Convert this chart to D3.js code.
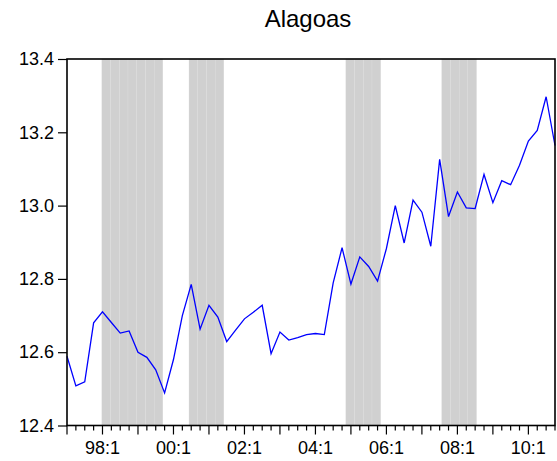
<!DOCTYPE html>
<html>
<head>
<meta charset="utf-8">
<script src="https://cdn.jsdelivr.net/npm/d3@7"></script>
<style>
  body { margin: 0; background: #fff; }
  text { font-family: "Liberation Sans", Arial, sans-serif; }
</style>
</head>
<body>
<div id="chart"></div>
<script>
// Quarterly series, 1997Q1 - 2010Q4
var startYear = 1997;
var values = [12.589, 12.508, 12.519, 12.680, 12.710, 12.681, 12.652, 12.658, 12.600, 12.586,
              12.552, 12.489, 12.580, 12.700, 12.785, 12.663, 12.728, 12.696, 12.629, 12.660,
              12.691, 12.709, 12.728, 12.596, 12.655, 12.633, 12.640, 12.648, 12.651, 12.648,
              12.789, 12.885, 12.786, 12.860, 12.834, 12.794, 12.883, 13.000, 12.898, 13.015,
              12.982, 12.889, 13.126, 12.970, 13.037, 12.994, 12.992, 13.085, 13.008, 13.068,
              13.057, 13.110, 13.176, 13.205, 13.297, 13.164];
// shaded periods (first, last quarter)
var shadeStart = ["1998Q1", "2000Q3", "2005Q1", "2007Q4"];
var shadeEnd   = ["1999Q3", "2001Q2", "2005Q4", "2008Q3"];
var yTicks = [12.4, 12.6, 12.8, 13.0, 13.2, 13.4];
var xTickLabels = ["98:1", "00:1", "02:1", "04:1", "06:1", "08:1", "10:1"];

var periods = values.map(function(d, i) {
  return (startYear + Math.floor(i / 4)) + "Q" + (i % 4 + 1);
});
function label(p) { return p.slice(2, 4) + ":" + p.slice(5); }

var margin = {top: 59, right: 2, bottom: 35.5, left: 67},
    width = 557 - margin.left - margin.right,
    height = 461 - margin.top - margin.bottom;

var svg = d3.select("#chart")
  .append("svg")
  .attr("width", 557)
  .attr("height", 461);

var g = svg.append("g")
  .attr("transform", "translate(" + margin.left + "," + margin.top + ")");

var x = d3.scaleLinear().domain([0, values.length - 1]).range([0, width]);
var slot = d3.scaleBand().domain(d3.range(values.length)).range([0, width]).padding(0);
var y = d3.scaleLinear().domain([12.4, 13.4]).range([height, 0]);

// shading, one rect per observation
var shaded = [];
shadeStart.forEach(function(s, k) {
  var a = periods.indexOf(s), b = periods.indexOf(shadeEnd[k]);
  for (var i = a; i <= b; i++) shaded.push(i);
});
g.selectAll(".shade")
  .data(shaded)
  .enter()
  .append("rect")
  .attr("class", "shade")
  .attr("x", function(d) { return slot(d); })
  .attr("y", 0)
  .attr("width", slot.bandwidth())
  .attr("height", height)
  .attr("fill", "#d0d0d0")
  .attr("stroke", "#dedede")
  .attr("stroke-width", 0.3);

// line
var line = d3.line()
  .x(function(d, i) { return x(i); })
  .y(function(d) { return y(d); });

g.append("path")
  .datum(values)
  .attr("d", line)
  .attr("fill", "none")
  .attr("stroke", "#0000ff")
  .attr("stroke-width", 1.3);

// y axis
var yAxis = g.append("g")
  .call(d3.axisLeft(y).tickValues(yTicks).tickFormat(d3.format(".1f")).tickSize(9).tickPadding(4));
yAxis.select(".domain").remove();
yAxis.selectAll("line").attr("stroke", "#000").attr("stroke-width", 1.2);
yAxis.selectAll("text").style("font-size", "18px").attr("fill", "#000");

// x axis: minor ticks every quarter, long ticks each year
var xAxis = g.append("g")
  .attr("transform", "translate(0," + height + ")");
xAxis.selectAll(".tick")
  .data(d3.range(values.length))
  .enter()
  .append("line")
  .attr("x1", function(d) { return x(d); })
  .attr("x2", function(d) { return x(d); })
  .attr("y1", 0)
  .attr("y2", function(d) { return d % 4 === 0 ? 9 : 5; })
  .attr("stroke", "#000")
  .attr("stroke-width", 1.2);

xAxis.selectAll(".xlab")
  .data(xTickLabels)
  .enter()
  .append("text")
  .attr("x", function(d) {
    return x(periods.map(label).indexOf(d));
  })
  .attr("y", 28)
  .attr("text-anchor", "middle")
  .style("font-size", "18px")
  .text(function(d) { return d; });

// frame
g.append("rect")
  .attr("x", 0)
  .attr("y", 0)
  .attr("width", width)
  .attr("height", height)
  .attr("fill", "none")
  .attr("stroke", "#000")
  .attr("stroke-width", 1.6);

// title
svg.append("text")
  .attr("x", 308)
  .attr("y", 27)
  .attr("text-anchor", "middle")
  .style("font-size", "24px")
  .text("Alagoas");
</script>
</body>
</html>
